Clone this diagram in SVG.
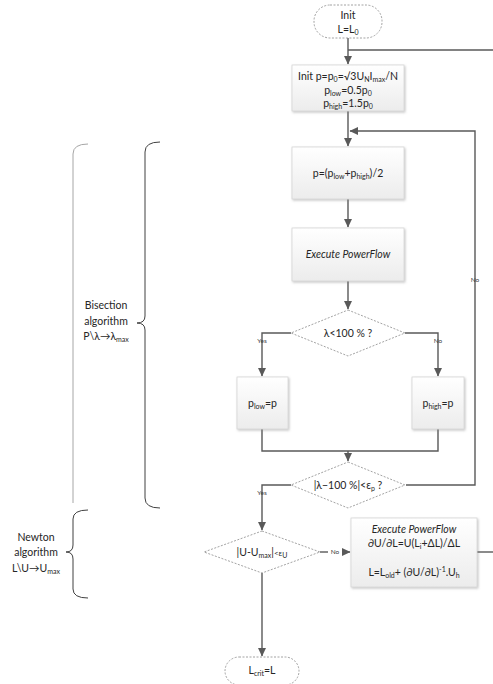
<svg xmlns="http://www.w3.org/2000/svg" width="493" height="684" viewBox="0 0 493 684">
<style>
.t{font-family:Lato,"Liberation Sans",sans-serif;font-size:10.5px;fill:#262626;text-anchor:middle}
.i{font-style:italic}
.s{font-size:7px}
.lb{font-family:Lato,"Liberation Sans",sans-serif;font-size:6.5px;fill:#404040;text-anchor:middle}
.box{fill:url(#g);stroke:#d6d6d6;stroke-width:0.8;filter:url(#sh)}
.dia{fill:#fff;stroke:#8c8c8c;stroke-width:0.8;stroke-dasharray:2 1.5}
.term{fill:#fff;stroke:#8c8c8c;stroke-width:0.8;stroke-dasharray:2 1.5}
.ln{fill:none;stroke:#595959;stroke-width:1.4}
.lna{fill:none;stroke:#595959;stroke-width:1.4;marker-end:url(#a)}
.br{fill:none;stroke:#404040;stroke-width:1}
.brg{fill:none;stroke:#a6a6a6;stroke-width:1}
</style>
<defs>
<linearGradient id="g" x1="0" y1="0" x2="0" y2="1">
<stop offset="0" stop-color="#ffffff"/>
<stop offset="1" stop-color="#ececec"/>
</linearGradient>
<filter id="sh" x="-10%" y="-10%" width="130%" height="130%">
<feDropShadow dx="1" dy="1.2" stdDeviation="0.8" flood-color="#7f7f7f" flood-opacity="0.45"/>
</filter>
<marker id="a" markerUnits="userSpaceOnUse" markerWidth="9" markerHeight="9" viewBox="0 0 9 9" refX="8" refY="4.5" orient="auto">
<path d="M0,0.5 L8.5,4.5 L0,8.5 Z" fill="#595959"/>
</marker>
</defs>

<g id="connectors">
<path class="lna" d="M348,38 V64"/>
<path class="ln" d="M493,50 H348"/>
<path class="lna" d="M348,111 V146"/>
<path class="lna" d="M406,485 H475 V131 H350"/>
<path class="lna" d="M348,199 V227"/>
<path class="lna" d="M348,281 V309"/>
<path class="lna" d="M291,333 H262 V376"/>
<path class="lna" d="M405,333 H438 V376"/>
<path class="ln" d="M262,429 V451 H438 V429"/>
<path class="lna" d="M348,451 V461"/>
<path class="lna" d="M291,485 H262 V530"/>
<path class="lna" d="M320,552 H350"/>
<path class="ln" d="M477,552 H493"/>
<path class="lna" d="M262,573 V656"/>
<text class="lb" x="262" y="343">Yes</text>
<text class="lb" x="438" y="343">No</text>
<text class="lb" x="475" y="282">No</text>
<text class="lb" x="262" y="495">Yes</text>
<rect x="328" y="547" width="14" height="9" fill="#fff"/>
<text class="lb" x="335" y="554">No</text>
</g>

<g id="start">
<rect class="term" x="314" y="5" width="68" height="33" rx="16"/>
<text class="t" x="348" y="19">Init</text>
<text class="t" x="348" y="33">L=L<tspan class="s" dy="2">0</tspan></text>
</g>

<g id="init">
<rect class="box" x="292" y="65" width="112" height="46"/>
<text class="t" x="348" y="80">Init p=p<tspan class="s" dy="2">0</tspan><tspan dy="-2">=√3U</tspan><tspan class="s" dy="2">N</tspan><tspan dy="-2">I</tspan><tspan class="s" dy="2">max</tspan><tspan dy="-2">/N</tspan></text>
<text class="t" x="348" y="94">p<tspan class="s" dy="2">low</tspan><tspan dy="-2">=0.5p</tspan><tspan class="s" dy="2">0</tspan></text>
<text class="t" x="348" y="107">p<tspan class="s" dy="2">high</tspan><tspan dy="-2">=1.5p</tspan><tspan class="s" dy="2">0</tspan></text>
</g>

<g id="bisect">
<rect class="box" x="292" y="147" width="112" height="52"/>
<text class="t" x="348" y="177">p=(p<tspan class="s" dy="2">low</tspan><tspan dy="-2">+p</tspan><tspan class="s" dy="2">high</tspan><tspan dy="-2">)/2</tspan></text>
</g>

<g id="powerflow1">
<rect class="box" x="292" y="228" width="112" height="53"/>
<text class="t i" x="348" y="258">Execute PowerFlow</text>
</g>

<g id="decision1">
<polygon class="dia" points="348,310 405,333 348,356 291,333"/>
<text class="t" x="348" y="337">λ&lt;100 % ?</text>
</g>

<g id="plow">
<rect class="box" x="237" y="377" width="51" height="52"/>
<text class="t" x="262.5" y="407">p<tspan class="s" dy="2">low</tspan><tspan dy="-2">=p</tspan></text>
</g>

<g id="phigh">
<rect class="box" x="412" y="377" width="52" height="52"/>
<text class="t" x="438" y="407">p<tspan class="s" dy="2">high</tspan><tspan dy="-2">=p</tspan></text>
</g>

<g id="decision2">
<polygon class="dia" points="348,462 405,485 348,508 291,485"/>
<text class="t" x="348" y="489">|λ−100 %|&lt;ε<tspan class="s" dy="2">p</tspan><tspan dy="-2"> ?</tspan></text>
</g>

<g id="decision3">
<polygon class="dia" points="262,531 320,552 262,573 204,552"/>
<text class="t" x="262" y="556">|U-U<tspan class="s" dy="2">max</tspan><tspan dy="-2">|</tspan><tspan style="font-size:8px">&lt;ε</tspan><tspan class="s" dy="2">U</tspan></text>
</g>

<g id="newton">
<rect class="box" x="351" y="518" width="126" height="69"/>
<text class="t i" x="414" y="533">Execute PowerFlow</text>
<text class="t" x="414" y="547">∂U/∂L=U(L<tspan class="s" dy="2">i</tspan><tspan dy="-2">+ΔL)/ΔL</tspan></text>
<text class="t" x="414" y="576">L=L<tspan class="s" dy="2">old</tspan><tspan dy="-2">+ (∂U/∂L)</tspan><tspan class="s" dy="-4">-1</tspan><tspan dy="4">.U</tspan><tspan class="s" dy="2">h</tspan></text>
</g>

<g id="end">
<rect class="term" x="225" y="657" width="74" height="28" rx="14"/>
<text class="t" x="262" y="674">L<tspan class="s" dy="2">crit</tspan><tspan dy="-2">=L</tspan></text>
</g>

<g id="bisection-brace">
<path class="brg" d="M88,144 Q73,144 73,154 V503"/>
<path class="br" d="M160,142 Q145,142 145,152 V316 Q145,323 137,323 Q145,323 145,330 V498 Q145,508 160,508"/>
<text class="t" x="106" y="309">Bisection</text>
<text class="t" x="106" y="325">algorithm</text>
<text class="t" x="106" y="340">P\λ→λ<tspan class="s" dy="2">max</tspan></text>
</g>

<g id="newton-brace">
<path class="br" d="M88,510 Q73,510 73,519 V545 Q73,552 66,552 Q73,552 73,559 V589 Q73,598 88,598"/>
<text class="t" x="36" y="541">Newton</text>
<text class="t" x="36" y="556">algorithm</text>
<text class="t" x="36" y="572">L\U→U<tspan class="s" dy="2">max</tspan></text>
</g>
</svg>
